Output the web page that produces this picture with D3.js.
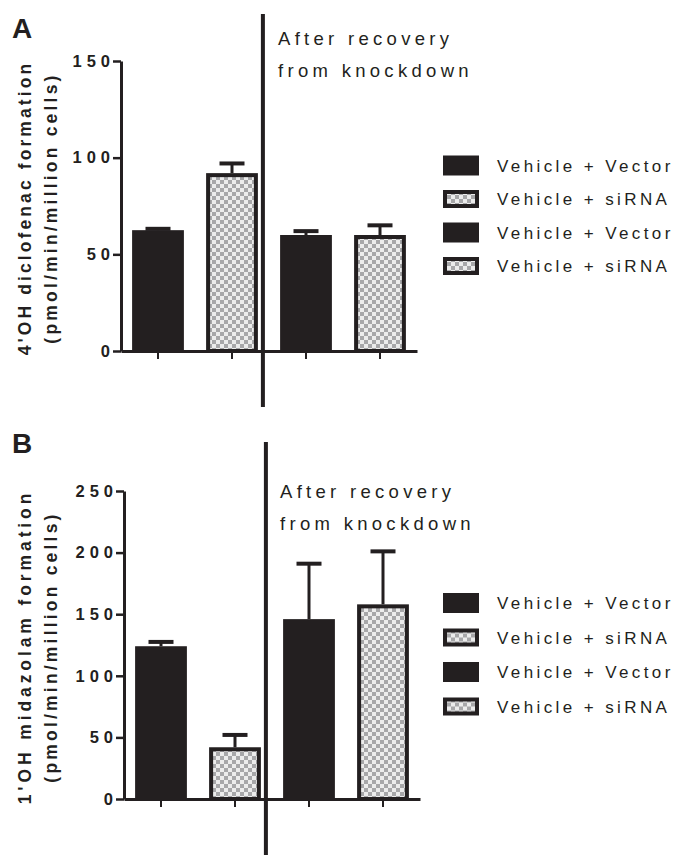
<!DOCTYPE html>
<html>
<head>
<meta charset="utf-8">
<script src="https://cdn.jsdelivr.net/npm/d3@7"></script>
<style>
  body { margin: 0; background: #fff; }
  text { font-family: "Liberation Sans", Arial, sans-serif; fill: #231f20; }
</style>
</head>
<body>
<div id="chart"></div>
<script>
const groups = ["Vehicle + Vector", "Vehicle + siRNA", "Vehicle + Vector", "Vehicle + siRNA"],
groupHatched = [false, true, false, true],
diclofenacMean = [62.5, 92, 60, 60],
diclofenacErr = [0.7, 5, 2, 5],
midazolamMean = [124, 42, 146, 158],
midazolamErr = [3.5, 10, 45, 43],
diclofenacTicks = [0, 50, 100, 150],
midazolamTicks = [0, 50, 100, 150, 200, 250],
noteLines = ["After recovery", "from knockdown"],
dark = '#231f20',
width = 676,
height = 855;

const panels = [
   { label: 'A', title: ["4'OH diclofenac formation", "(pmol/min/million cells)"], titleSpacing: [3.1, 3.2],
     mean: diclofenacMean, err: diclofenacErr, ticks: diclofenacTicks,
     top: 61, bottom: 351, left: 121, right: 417, labelY: 38, dividerTop: 14, dividerBottom: 407,
     noteY: 45, noteX: 278, legendY: 165.5, legendStep: 33.5 },
   { label: 'B', title: ["1'OH midazolam formation", "(pmol/min/million cells)"], titleSpacing: [3.9, 3.2],
     mean: midazolamMean, err: midazolamErr, ticks: midazolamTicks,
     top: 491, bottom: 799, left: 124, right: 420, labelY: 453, dividerTop: 442, dividerBottom: 855,
     noteY: 498, noteX: 280, legendY: 603, legendStep: 34.5 }
];

const svg = d3.select('#chart')
   .append('svg')
   .attr('width', width)
   .attr('height', height);

// checker fill used by the siRNA bars
const pattern = svg.append('defs')
   .append('pattern')
   .attr('id', 'checker')
   .attr('patternUnits', 'userSpaceOnUse')
   .attr('width', 8)
   .attr('height', 8);
pattern.append('rect').attr('width', 8).attr('height', 8).attr('fill', '#ececec');
pattern.append('rect').attr('width', 4).attr('height', 4).attr('fill', '#a7a7a9');
pattern.append('rect').attr('x', 4).attr('y', 4).attr('width', 4).attr('height', 4).attr('fill', '#a7a7a9');

const borderW = 4;

panels.forEach(p => {
   const g = svg.append('g');
   const data = groups.map((name, i) => ({ name, i, hatched: groupHatched[i], mean: p.mean[i], err: p.err[i] }));

   const x = d3.scaleBand()
      .domain(d3.range(groups.length))
      .range([p.left, p.right])
      .paddingInner(0.3)
      .paddingOuter(0.15);
   const y = d3.scaleLinear()
      .domain([0, d3.max(p.ticks)])
      .range([p.bottom, p.top]);

   // panel letter
   g.append('text')
      .attr('x', 12)
      .attr('y', p.labelY)
      .attr('font-size', 28)
      .attr('font-weight', 'bold')
      .text(p.label);

   // y title, two rotated lines
   g.selectAll('.ytitle')
      .data(p.title)
      .join('text')
      .attr('class', 'ytitle')
      .attr('transform', (d, i) => `translate(${i ? 57 : 31},${(p.top + p.bottom) / 2 + 2}) rotate(-90)`)
      .attr('text-anchor', 'middle')
      .attr('font-size', 17.5)
      .attr('font-weight', 'bold')
      .attr('letter-spacing', (d, i) => p.titleSpacing[i])
      .text(d => d);

   // bars
   g.selectAll('.bar')
      .data(data)
      .join('rect')
      .attr('class', 'bar')
      .attr('x', d => d.hatched ? x(d.i) + borderW / 2 : x(d.i))
      .attr('width', d => d.hatched ? x.bandwidth() - borderW : x.bandwidth())
      .attr('y', d => d.hatched ? y(d.mean) + borderW / 2 : y(d.mean))
      .attr('height', d => y(0) - y(d.mean) - (d.hatched ? borderW / 2 : 0))
      .attr('fill', d => d.hatched ? 'url(#checker)' : dark)
      .attr('stroke', d => d.hatched ? dark : 'none')
      .attr('stroke-width', borderW);

   // error bars (upper only)
   const cx = d => x(d.i) + x.bandwidth() / 2;
   g.selectAll('.err')
      .data(data)
      .join('line')
      .attr('class', 'err')
      .attr('x1', cx)
      .attr('x2', cx)
      .attr('y1', d => y(d.mean))
      .attr('y2', d => y(d.mean + d.err))
      .attr('stroke', dark)
      .attr('stroke-width', 3);

   g.selectAll('.cap')
      .data(data)
      .join('line')
      .attr('class', 'cap')
      .attr('x1', d => cx(d) - 12.5)
      .attr('x2', d => cx(d) + 12.5)
      .attr('y1', d => y(d.mean + d.err))
      .attr('y2', d => y(d.mean + d.err))
      .attr('stroke', dark)
      .attr('stroke-width', 4);

   // axes
   const yAxis = g.append('g')
      .attr('transform', `translate(${p.left},0)`)
      .call(d3.axisLeft(y).tickValues(p.ticks).tickSize(8).tickSizeOuter(0).tickPadding(3));
   yAxis.select('.domain').attr('stroke', dark).attr('stroke-width', 3);
   yAxis.selectAll('.tick line').attr('stroke', dark).attr('stroke-width', 2.5);
   yAxis.selectAll('.tick text')
      .attr('font-size', 16.5)
      .attr('font-weight', 'bold')
      .attr('font-family', '"Liberation Sans", Arial, sans-serif')
      .attr('letter-spacing', 5)
      .attr('dx', 5)
      .attr('fill', dark);

   const xAxis = g.append('g')
      .attr('transform', `translate(0,${p.bottom})`)
      .call(d3.axisBottom(x).tickSize(8).tickSizeOuter(0).tickFormat(''));
   xAxis.select('.domain').attr('stroke', dark).attr('stroke-width', 3);
   xAxis.selectAll('.tick line').attr('stroke', dark).attr('stroke-width', 2);

   // divider between the two experiments
   const dividerX = x(1) + x.bandwidth() + 5;
   g.append('line')
      .attr('x1', dividerX)
      .attr('x2', dividerX)
      .attr('y1', p.dividerTop)
      .attr('y2', p.dividerBottom)
      .attr('stroke', dark)
      .attr('stroke-width', 4);

   g.selectAll('.note')
      .data(noteLines)
      .join('text')
      .attr('class', 'note')
      .attr('x', p.noteX)
      .attr('y', (d, i) => p.noteY + i * 32)
      .attr('font-size', 18.5)
      .attr('letter-spacing', 4.3)
      .text(d => d);

   // legend
   const legend = g.selectAll('.legend')
      .data(data)
      .join('g')
      .attr('class', 'legend')
      .attr('transform', d => `translate(443,${p.legendY + d.i * p.legendStep})`);

   legend.append('rect')
      .attr('x', d => d.hatched ? borderW / 2 : 0)
      .attr('y', d => d.hatched ? -9 + borderW / 2 : -10)
      .attr('width', d => d.hatched ? 36 - borderW : 36)
      .attr('height', d => d.hatched ? 18 - borderW : 20)
      .attr('fill', d => d.hatched ? 'url(#checker)' : dark)
      .attr('stroke', d => d.hatched ? dark : 'none')
      .attr('stroke-width', borderW);

   legend.append('text')
      .attr('x', 54)
      .attr('y', 6)
      .attr('font-size', 17)
      .attr('letter-spacing', 3.4)
      .text(d => d.name);
});
</script>
</body>
</html>
